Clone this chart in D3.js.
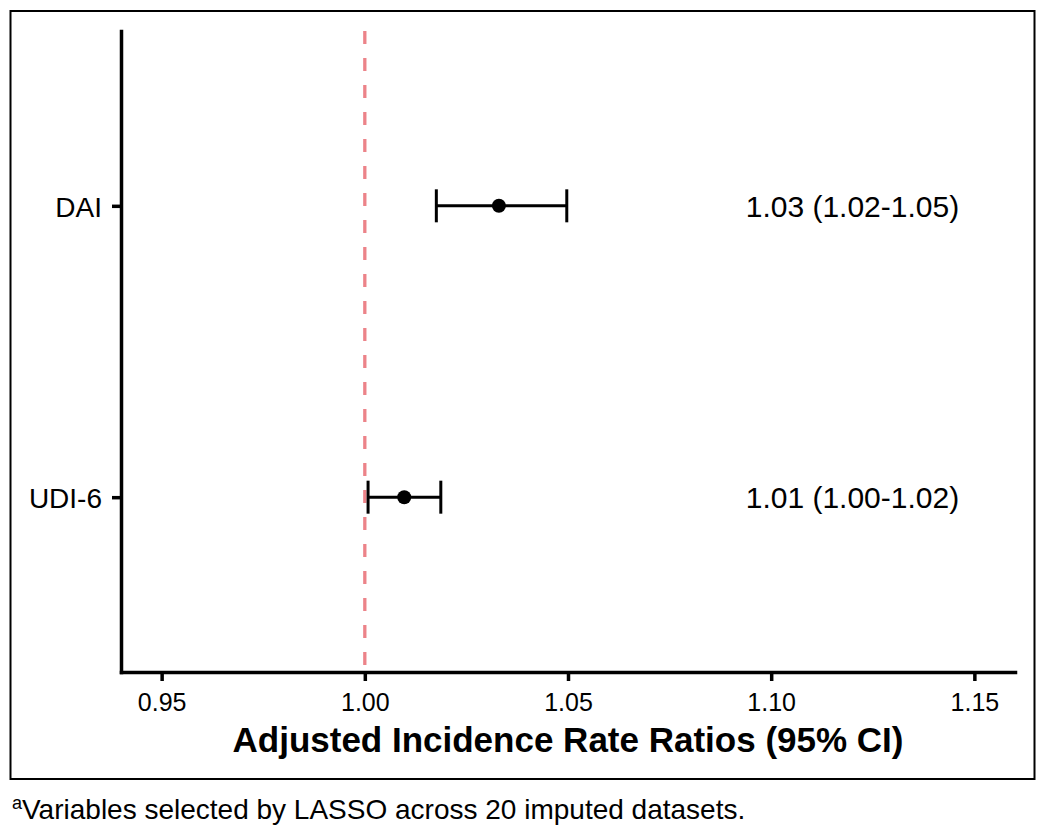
<!DOCTYPE html>
<html>
<head>
<meta charset="utf-8">
<script src="https://cdn.jsdelivr.net/npm/d3@7"></script>
<style>
  body { margin: 0; background: #fff; }
  svg { font-family: "Liberation Sans", Arial, sans-serif; }
</style>
</head>
<body>
<div id="app"></div>
<script>
const WIDTH = 1050;
const HEIGHT = 830;

// data
const variables = ['DAI', 'UDI-6'];
const estimates = [1.033, 1.0097];
const lowerCI = [1.0176, 1.0008];
const upperCI = [1.0497, 1.0187];
const labels = ['1.03 (1.02-1.05)', '1.01 (1.00-1.02)'];
const xTicks = [0.95, 1.00, 1.05, 1.10, 1.15];
const refValue = 1.00;
const labelAt = 1.12;
const footnote = 'Variables selected by LASSO across 20 imputed datasets.';

const rows = variables.map((v, i) => ({
  name: v, est: estimates[i], lo: lowerCI[i], hi: upperCI[i], label: labels[i]
}));

const svg = d3.select('#app')
  .append('svg')
    .attr('width', WIDTH)
    .attr('height', HEIGHT);

// outer frame
svg.append('rect')
  .attr('x', 10.5).attr('y', 11)
  .attr('width', 1024).attr('height', 768)
  .attr('fill', 'none')
  .attr('stroke', '#000')
  .attr('stroke-width', 2);

const x = d3.scaleLinear()
  .domain([0.94, 1.16])
  .range([121, 1015]);

const y = d3.scalePoint()
  .domain(variables)
  .range([31, 672])
  .padding(0.6);

// reference line
svg.append('line')
  .attr('x1', x(refValue)).attr('x2', x(refValue))
  .attr('y1', 31).attr('y2', 672)
  .attr('stroke', '#ec8389')
  .attr('stroke-width', 3.3)
  .attr('stroke-dasharray', '13,14');

// error bars
const capHalf = 16.5;
const g = svg.selectAll('.row')
  .data(rows)
  .enter()
    .append('g')
    .attr('class', 'row');

g.append('line')
  .attr('x1', d => x(d.lo)).attr('x2', d => x(d.hi))
  .attr('y1', d => y(d.name)).attr('y2', d => y(d.name))
  .attr('stroke', '#000').attr('stroke-width', 3);

g.selectAll('.cap')
  .data(d => [{v: d.lo, n: d.name}, {v: d.hi, n: d.name}])
  .enter()
    .append('line')
    .attr('x1', d => x(d.v)).attr('x2', d => x(d.v))
    .attr('y1', d => y(d.n) - capHalf).attr('y2', d => y(d.n) + capHalf)
    .attr('stroke', '#000').attr('stroke-width', 3);

g.append('circle')
  .attr('cx', d => x(d.est))
  .attr('cy', d => y(d.name))
  .attr('r', 7)
  .attr('fill', '#000');

g.append('text')
  .attr('x', x(labelAt))
  .attr('y', d => y(d.name))
  .attr('dy', '0.37em')
  .attr('text-anchor', 'middle')
  .attr('font-size', 30)
  .attr('fill', '#000')
  .text(d => d.label);

// axes
const xAxis = svg.append('g')
  .attr('transform', 'translate(0,672)')
  .call(d3.axisBottom(x).tickValues(xTicks).tickFormat(d3.format('.2f'))
    .tickSize(9).tickSizeOuter(0).tickPadding(12));

const yAxis = svg.append('g')
  .attr('transform', 'translate(121,0)')
  .call(d3.axisLeft(y).tickSize(9).tickSizeOuter(0).tickPadding(10));

[xAxis, yAxis].forEach(a => {
  a.select('.domain').attr('stroke', '#000').attr('stroke-width', 3.5).attr('stroke-linecap', 'square');
  a.selectAll('.tick line').attr('stroke', '#000').attr('stroke-width', 3.5);
  a.selectAll('.tick text').attr('fill', '#000').attr('font-family', '"Liberation Sans", Arial, sans-serif');
});
xAxis.selectAll('.tick text').attr('font-size', 25);
yAxis.selectAll('.tick text').attr('font-size', 28).attr('dy', '0.37em');

// axis title
svg.append('text')
  .attr('x', 568)
  .attr('y', 752)
  .attr('text-anchor', 'middle')
  .attr('font-size', 35)
  .attr('font-weight', 'bold')
  .attr('fill', '#000')
  .text('Adjusted Incidence Rate Ratios (95% CI)');

// footnote
const fn = svg.append('text')
  .attr('x', 12)
  .attr('y', 819)
  .attr('font-size', 28)
  .attr('fill', '#000');
fn.append('tspan').attr('font-size', 18).attr('dy', -10).text('a');
fn.append('tspan').attr('dy', 10).text(footnote);
</script>
</body>
</html>
